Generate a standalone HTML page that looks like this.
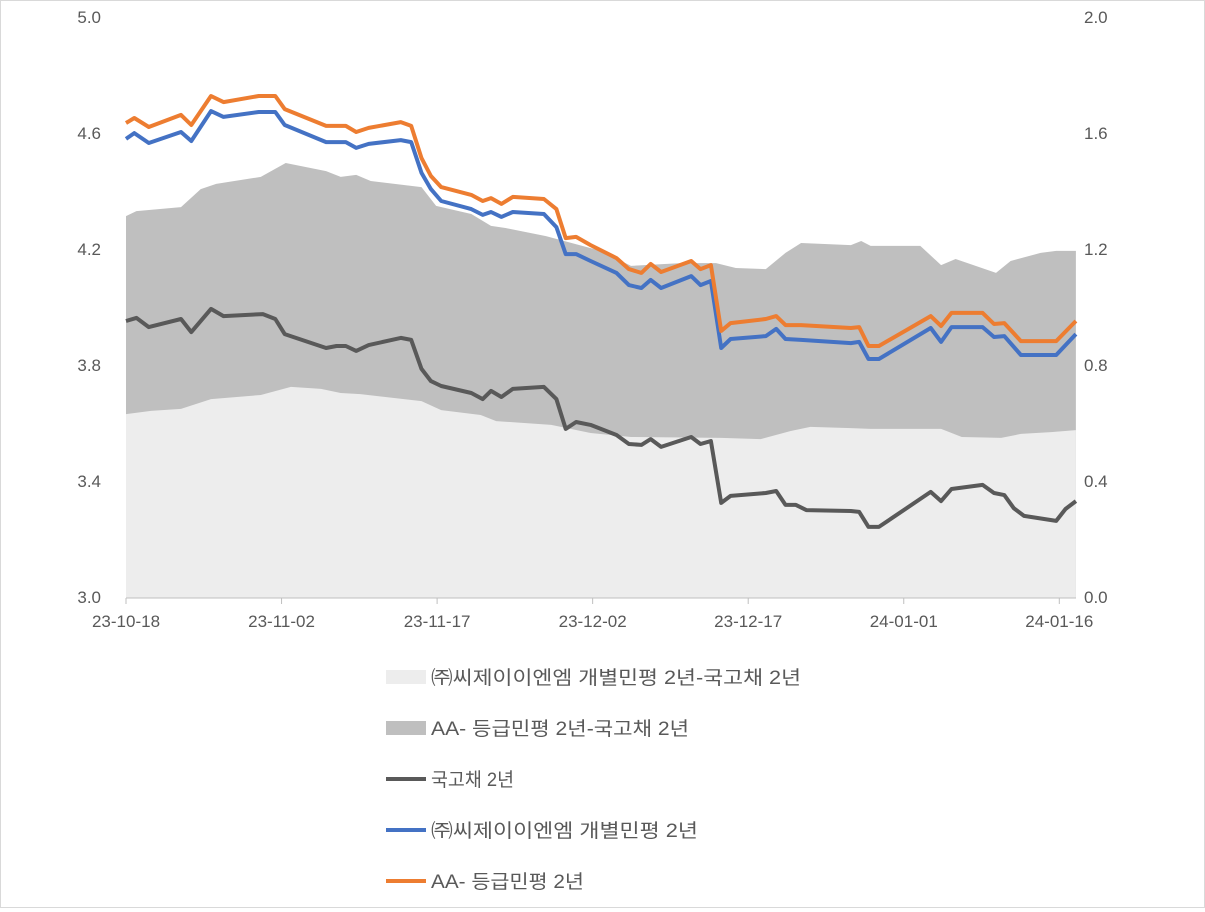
<!DOCTYPE html>
<html><head><meta charset="utf-8">
<style>
body{margin:0;background:#fff;}
#wrap{position:relative;width:1205px;height:908px;box-sizing:border-box;border:1px solid #d9d9d9;}
svg text{font-family:"Liberation Sans","Noto Sans CJK KR",sans-serif;fill:#595959;}
</style></head>
<body>
<div id="wrap">
<svg id="chart" width="1203" height="906"></svg>
</div>
<script>
// ---- data ----
const lineDays = [0,0.8,2.2,5.3,6.3,8.2,9.4,12.8,14.4,15.3,19.3,21.2,22.2,23.4,26.5,27.5,28.5,29.4,30.4,33.3,34.4,35.2,36.2,37.3,40.3,41.5,42.4,43.4,44.8,47.3,48.5,49.7,50.6,51.6,54.5,55.4,56.4,57.4,58.3,61.7,62.7,63.6,65.1,69.9,70.7,71.6,72.6,77.6,78.6,79.6,82.6,83.7,84.7,86.3,89.7,91.6];
const aaYield = [4.638,4.655,4.624,4.666,4.631,4.731,4.710,4.731,4.731,4.686,4.628,4.628,4.607,4.621,4.641,4.628,4.517,4.455,4.417,4.390,4.369,4.379,4.359,4.383,4.376,4.341,4.241,4.245,4.217,4.172,4.134,4.121,4.152,4.124,4.162,4.134,4.148,3.921,3.948,3.962,3.972,3.941,3.941,3.931,3.934,3.869,3.869,3.972,3.938,3.983,3.983,3.945,3.948,3.886,3.886,3.955];
const cjYield = [4.583,4.603,4.569,4.607,4.576,4.679,4.659,4.676,4.676,4.631,4.572,4.572,4.552,4.566,4.579,4.572,4.466,4.410,4.369,4.341,4.321,4.331,4.314,4.331,4.324,4.279,4.186,4.186,4.162,4.121,4.079,4.069,4.097,4.069,4.110,4.079,4.093,3.862,3.893,3.903,3.928,3.893,3.890,3.879,3.883,3.824,3.824,3.931,3.883,3.934,3.934,3.900,3.903,3.838,3.838,3.910];
const govDays = [0,1.0,2.2,5.3,6.3,8.2,9.4,13.2,14.4,15.3,19.3,20.3,21.2,22.2,23.4,26.5,27.5,28.5,29.4,30.4,33.3,34.4,35.2,36.2,37.3,40.3,41.5,42.4,43.4,44.8,47.3,48.5,49.7,50.6,51.6,54.5,55.4,56.4,57.4,58.3,61.7,62.7,63.6,64.6,65.6,69.9,70.7,71.6,72.6,77.6,78.6,79.6,82.6,83.7,84.7,85.6,86.6,89.7,90.6,91.6];
const govYield = [3.955,3.966,3.934,3.962,3.917,3.997,3.972,3.979,3.962,3.910,3.862,3.869,3.869,3.852,3.872,3.897,3.890,3.790,3.748,3.731,3.707,3.686,3.714,3.693,3.721,3.728,3.686,3.583,3.607,3.597,3.562,3.531,3.528,3.548,3.521,3.555,3.531,3.541,3.328,3.352,3.362,3.369,3.321,3.321,3.303,3.300,3.297,3.245,3.245,3.366,3.334,3.376,3.390,3.362,3.355,3.310,3.283,3.266,3.307,3.334];
const aaSpreadDays = [0,1.0,5.3,7.2,8.7,13.0,15.4,19.3,20.7,22.2,23.6,28.5,29.9,33.3,35.2,36.6,40.5,45.8,48.7,53.5,56.9,58.8,61.7,63.6,65.1,69.9,70.9,71.8,76.6,78.6,80.0,83.9,85.3,88.2,89.7,91.6];
const aaSpread = [1.317,1.334,1.348,1.410,1.428,1.452,1.500,1.472,1.452,1.459,1.438,1.417,1.352,1.324,1.283,1.276,1.248,1.197,1.145,1.155,1.155,1.138,1.134,1.190,1.224,1.217,1.231,1.214,1.214,1.148,1.169,1.121,1.162,1.190,1.197,1.197];
const cjSpreadDays = [0,2.4,5.3,8.2,13.0,15.9,18.8,20.7,22.6,28.5,30.4,34.2,35.7,41.0,44.8,48.7,57.4,61.2,64.1,66.0,69.9,71.8,78.6,80.6,84.4,86.3,89.2,91.6];
const cjSpread = [0.634,0.645,0.652,0.686,0.700,0.728,0.721,0.707,0.703,0.679,0.648,0.631,0.610,0.597,0.569,0.555,0.552,0.548,0.576,0.590,0.586,0.583,0.583,0.555,0.552,0.566,0.572,0.579];
const leftTicks = [3.0,3.4,3.8,4.2,4.6,5.0];
const rightTicks = [0.0,0.4,0.8,1.2,1.6,2.0];
const xTickDays = [0,15,30,45,60,75,90];
const xTickLabels = ["23-10-18","23-11-02","23-11-17","23-12-02","23-12-17","24-01-01","24-01-16"];

// ---- axes ----
const X0=125, PX_PER_DAY=10.37, Y0=597, PX_PER_UNIT=290;
const xs = d => X0 + d*PX_PER_DAY;
const yL = v => Y0 - (v-3.0)*PX_PER_UNIT;
const yR = v => Y0 - v*PX_PER_UNIT;
const NS="http://www.w3.org/2000/svg";
const svg=document.getElementById('chart');
function mk(tag,attrs){const e=document.createElementNS(NS,tag);for(const k in attrs)e.setAttribute(k,attrs[k]);svg.appendChild(e);return e;}

function areaPath(days,vals){
  let d=`M${xs(days[0])},${yR(0)}`;
  days.forEach((t,i)=>{d+=` L${xs(t).toFixed(1)},${yR(vals[i]).toFixed(1)}`;});
  d+=` L${xs(days[days.length-1])},${yR(0)} Z`;return d;
}
function linePath(days,vals){
  return days.map((t,i)=>`${i?'L':'M'}${xs(t).toFixed(1)},${yL(vals[i]).toFixed(1)}`).join(' ');
}
let e;
e=mk('path',{d:areaPath(aaSpreadDays,aaSpread),fill:'#bfbfbf'});


e=mk('path',{d:areaPath(cjSpreadDays,cjSpread),fill:'#ededed'});


e=mk('path',{d:linePath(govDays,govYield),fill:'none',stroke:'#595959','stroke-width':4,'stroke-linejoin':'round'});


e=mk('path',{d:linePath(lineDays,cjYield),fill:'none',stroke:'#4472c4','stroke-width':4,'stroke-linejoin':'round'});


e=mk('path',{d:linePath(lineDays,aaYield),fill:'none',stroke:'#ed7d31','stroke-width':4,'stroke-linejoin':'round'});



e=mk('line',{x1:X0,x2:1075,y1:Y0,y2:Y0,stroke:'#bfbfbf','stroke-width':1});



leftTicks.forEach(v=>{
  const t=mk('text',{x:100,y:yL(v)+5,'text-anchor':'end','font-size':17});
  t.textContent=v.toFixed(1);
  
  
});
rightTicks.forEach(v=>{
  const t=mk('text',{x:1083,y:yR(v)+5,'font-size':17});
  t.textContent=v.toFixed(1);
  
  
});
xTickDays.forEach((d,i)=>{
  const tk=mk('line',{x1:xs(d),x2:xs(d),y1:Y0,y2:Y0+6,stroke:'#bfbfbf'});
  
  
  const t=mk('text',{x:xs(d),y:626,'text-anchor':'middle','font-size':17});
  t.textContent=xTickLabels[i];
  
  
});

// ---- legend ----
const legendLabels=["㈜씨제이이엔엠 개별민평 2년-국고채 2년","AA- 등급민평 2년-국고채 2년","국고채 2년","㈜씨제이이엔엠 개별민평 2년","AA- 등급민평 2년"];
const legendColors=["#ededed","#bfbfbf","#595959","#4472c4","#ed7d31"];
const legendWidths=[370,258,83,267,153];
legendLabels.forEach((lab,i)=>{
  const y=676+i*51;
  const sw = i<2 ? mk('rect',{x:385,y:y-7,width:40,height:14,fill:legendColors[i]})
                 : mk('line',{x1:385,x2:425,y1:y,y2:y,stroke:legendColors[i],'stroke-width':4});
  
  
  const t=mk('text',{x:430,y:y+7,'font-size':19,textLength:legendWidths[i],lengthAdjust:'spacingAndGlyphs'});
  t.textContent=lab;
  
  
});
</script>
</body></html>
